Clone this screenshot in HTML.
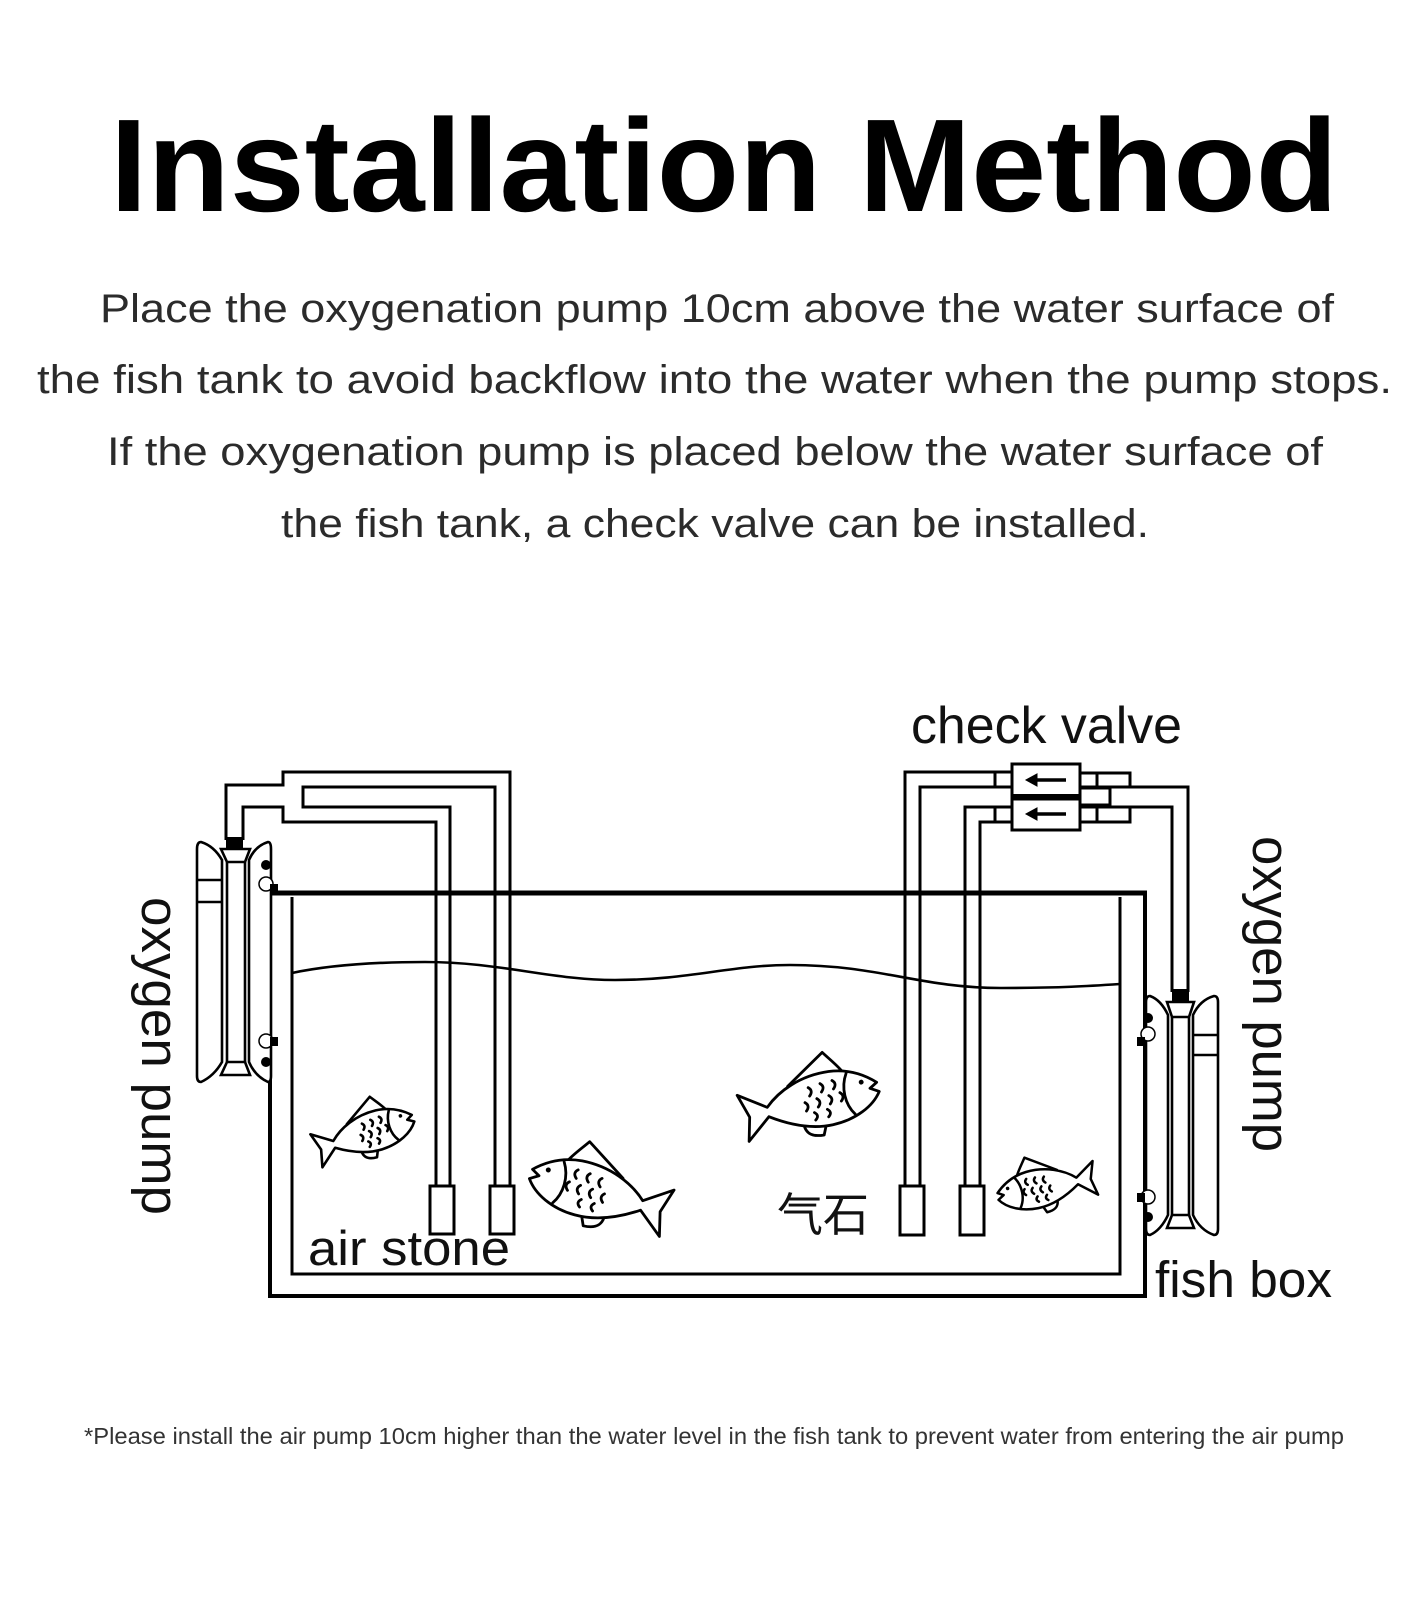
<!DOCTYPE html>
<html>
<head>
<meta charset="utf-8">
<style>
  html,body{margin:0;padding:0;background:#fff;}
  body{width:1427px;height:1600px;overflow:hidden;}
  svg{display:block;}
  .t{font-family:"Liberation Sans","Noto Sans CJK SC",sans-serif;}
</style>
</head>
<body>
<svg width="1427" height="1600" viewBox="0 0 1427 1600" xmlns="http://www.w3.org/2000/svg">
  <rect x="0" y="0" width="1427" height="1600" fill="#fff"/>

  <!-- Title -->
  <text class="t" x="110" y="211" font-size="132" font-weight="bold" fill="#000" textLength="1228" lengthAdjust="spacingAndGlyphs">Installation Method</text>

  <!-- Paragraph -->
  <g class="t" font-size="40" fill="#2b2b2b">
    <text x="100" y="322" textLength="1234" lengthAdjust="spacingAndGlyphs">Place the oxygenation pump 10cm above the water surface of</text>
    <text x="37" y="393" textLength="1355" lengthAdjust="spacingAndGlyphs">the fish tank to avoid backflow into the water when the pump stops.</text>
    <text x="107" y="465" textLength="1216" lengthAdjust="spacingAndGlyphs">If the oxygenation pump is placed below the water surface of</text>
    <text x="281" y="537" textLength="868" lengthAdjust="spacingAndGlyphs">the fish tank, a check valve can be installed.</text>
  </g>

  <!-- Labels -->
  <text class="t" x="911" y="743" font-size="52" fill="#111" textLength="271" lengthAdjust="spacingAndGlyphs">check valve</text>
  <text class="t" font-size="53" fill="#111" transform="translate(142,897) rotate(90)" textLength="318" lengthAdjust="spacingAndGlyphs">oxygen pump</text>
  <text class="t" font-size="53" fill="#111" transform="translate(1253,836) rotate(90)" textLength="316" lengthAdjust="spacingAndGlyphs">oxygen pump</text>
  <text class="t" x="1155" y="1297" font-size="51" fill="#111" textLength="177" lengthAdjust="spacingAndGlyphs">fish box</text>
  <text class="t" x="308" y="1265" font-size="49" fill="#111" textLength="202" lengthAdjust="spacingAndGlyphs">air stone</text>
  <text x="777" y="1231" font-size="46" fill="#111" style="font-family:'Noto Sans CJK SC','WenQuanYi Zen Hei',sans-serif;">气石</text>

  <!-- Footnote -->
  <text class="t" x="84" y="1444" font-size="23" fill="#333" textLength="1260" lengthAdjust="spacingAndGlyphs">*Please install the air pump 10cm higher than the water level in the fish tank to prevent water from entering the air pump</text>

  <!-- Tubes -->
  <g fill="none" stroke="#000" stroke-width="3" stroke-linejoin="miter">
    <path d="M226,840 V785 H283 V772 H510 V1186"/>
    <path d="M243,840 V807 H283 V822 H436 V1186"/>
    <path d="M450,1186 V807 H303 V787 H495 V1186"/>
    <path d="M905,1186 V772 H995"/>
    <path d="M920,1186 V787 H995"/>
    <path d="M965,1186 V807 H995"/>
    <path d="M980,1186 V822 H995"/>
    <path d="M1130,787 H1188 V992"/>
    <path d="M1130,807 H1172 V992"/>
  </g>

  <!-- Check valve -->
  <g fill="#fff" stroke="#000" stroke-width="3">
    <rect x="995" y="772" width="17" height="15"/>
    <rect x="995" y="807" width="17" height="15"/>
    <rect x="1080" y="773" width="50" height="14"/>
    <rect x="1080" y="807" width="50" height="15"/>
    <rect x="1080" y="788" width="30" height="17"/>
    <rect x="1012" y="764" width="68" height="33"/>
    <rect x="1012" y="799" width="68" height="31"/>
    <line x1="1097" y1="773" x2="1097" y2="787"/>
    <line x1="1097" y1="807" x2="1097" y2="822"/>
  </g>
  <rect x="1012" y="794" width="68" height="6" fill="#000"/>
  <g fill="#000" stroke="#000">
    <line x1="1034" y1="780" x2="1066" y2="780" stroke-width="3.5"/>
    <polygon points="1026,780 1037,774 1037,786" stroke-width="1"/>
    <line x1="1034" y1="814" x2="1066" y2="814" stroke-width="3.5"/>
    <polygon points="1026,814 1037,808 1037,820" stroke-width="1"/>
  </g>

  <!-- Air stones -->
  <g fill="#fff" stroke="#000" stroke-width="3">
    <rect x="430" y="1186" width="24" height="48"/>
    <rect x="490" y="1186" width="24" height="48"/>
    <rect x="900" y="1186" width="24" height="49"/>
    <rect x="960" y="1186" width="24" height="49"/>
  </g>

  <!-- Tank -->
  <path d="M292,897 V1274 H1120 V897" fill="none" stroke="#000" stroke-width="3"/>
  <path d="M270,893 V1296 H1145 V893" fill="none" stroke="#000" stroke-width="4"/>
  <line x1="268" y1="893" x2="1147" y2="893" stroke="#000" stroke-width="5"/>

  <!-- Water line -->
  <path d="M292,973 C330,965 380,962 425,962 C500,962 550,980 615,980 C690,980 730,965 790,965 C880,965 920,988 1001,988 C1060,988 1090,986 1120,984" fill="none" stroke="#000" stroke-width="2.6"/>

  <!-- Left pump -->
  <g fill="#fff" stroke="#000" stroke-width="2.6">
    <path d="M201,842 Q214,846 222,860 L222,1062 Q214,1076 201,1082 Q197,1082 197,1076 L197,849 Q197,842 201,842 Z"/>
    <path d="M268,842 Q255,846 249,860 L249,1062 Q255,1076 268,1082 Q271,1082 271,1076 L271,849 Q271,842 268,842 Z"/>
    <path d="M221,849 L250,849 L245,862 L227,862 Z"/>
    <path d="M221,1075 L250,1075 L245,1062 L227,1062 Z"/>
    <line x1="227" y1="862" x2="227" y2="1062"/>
    <line x1="245" y1="862" x2="245" y2="1062"/>
    <line x1="197" y1="880" x2="222" y2="880"/>
    <line x1="197" y1="902" x2="222" y2="902"/>
  </g>
  <rect x="226" y="837" width="17" height="12" fill="#000"/>
  <g>
    <circle cx="266" cy="884" r="7" fill="#fff" stroke="#000" stroke-width="1.5"/>
    <circle cx="266" cy="1041" r="7" fill="#fff" stroke="#000" stroke-width="1.5"/>
    <circle cx="266" cy="865" r="5" fill="#000"/>
    <circle cx="266" cy="1062" r="5" fill="#000"/>
    <rect x="270" y="884" width="8" height="9" fill="#000"/>
    <rect x="270" y="1037" width="8" height="9" fill="#000"/>
  </g>

  <!-- Right pump -->
  <g fill="#fff" stroke="#000" stroke-width="2.6">
    <path d="M1150,996 Q1161,1000 1168,1015 L1168,1215 Q1161,1230 1150,1235 Q1146,1235 1146,1229 L1146,1002 Q1146,996 1150,996 Z"/>
    <path d="M1214,996 Q1200,1000 1193,1015 L1193,1215 Q1200,1230 1214,1235 Q1218,1235 1218,1229 L1218,1002 Q1218,996 1214,996 Z"/>
    <path d="M1167,1002 L1194,1002 L1189,1017 L1172,1017 Z"/>
    <path d="M1167,1228 L1194,1228 L1189,1215 L1172,1215 Z"/>
    <line x1="1172" y1="1017" x2="1172" y2="1215"/>
    <line x1="1189" y1="1017" x2="1189" y2="1215"/>
    <line x1="1193" y1="1035" x2="1218" y2="1035"/>
    <line x1="1193" y1="1055" x2="1218" y2="1055"/>
  </g>
  <rect x="1172" y="989" width="17" height="13" fill="#000"/>
  <g>
    <circle cx="1148" cy="1034" r="7" fill="#fff" stroke="#000" stroke-width="1.5"/>
    <circle cx="1148" cy="1197" r="7" fill="#fff" stroke="#000" stroke-width="1.5"/>
    <circle cx="1148" cy="1018" r="5" fill="#000"/>
    <circle cx="1148" cy="1217" r="5" fill="#000"/>
    <rect x="1137" y="1037" width="8" height="9" fill="#000"/>
    <rect x="1137" y="1193" width="8" height="9" fill="#000"/>
  </g>

  <!-- Fish 1 (small, facing right) -->
  <g transform="translate(314,1150) rotate(-15.5) scale(0.7)" fill="none" stroke="#000" stroke-width="2.6" stroke-linecap="round" stroke-linejoin="round">
    <path vector-effect="non-scaling-stroke" fill="#fff" d="M55,-23 L97,-52 C103,-44 110,-36 114,-29"/>
    <path vector-effect="non-scaling-stroke" fill="#fff" d="M65,21 C66,30 72,34 84,34 L88,24"/>
    <path vector-effect="non-scaling-stroke" fill="#fff" d="M30,-5 C45,-20 70,-32 100,-31 C122,-30 138,-20 148,-11 L140,-6 L149,-1 C140,13 120,24 95,25 C70,26 48,16 30,5 L5,27 L10,2 L1,-23 Z"/>
    <path vector-effect="non-scaling-stroke" d="M118,-26 C110,-12 111,6 120,18"/>
    <path vector-effect="non-scaling-stroke" d="M76,-18 q5,4 0,9 M89,-20 q5,4 0,9 M102,-21 q5,4 0,9 M70,-3 q5,4 0,9 M83,-5 q5,4 0,9 M96,-6 q5,4 0,9 M108,-7 q5,4 0,9 M78,9 q5,4 0,8 M92,8 q5,4 0,8"/>
    <circle cx="132" cy="-14" r="2.6" fill="#000" stroke="none"/>
  </g>

  <!-- Fish 3 (big, facing right) -->
  <g transform="translate(740,1117) rotate(-10) scale(0.95)" fill="none" stroke="#000" stroke-width="2.8" stroke-linecap="round" stroke-linejoin="round">
    <path vector-effect="non-scaling-stroke" fill="#fff" d="M55,-23 L97,-52 C103,-44 110,-36 114,-29"/>
    <path vector-effect="non-scaling-stroke" fill="#fff" d="M65,21 C66,30 72,34 84,34 L88,24"/>
    <path vector-effect="non-scaling-stroke" fill="#fff" d="M30,-5 C45,-20 70,-32 100,-31 C122,-30 138,-20 148,-11 L140,-6 L149,-1 C140,13 120,24 95,25 C70,26 48,16 30,5 L5,27 L10,2 L1,-23 Z"/>
    <path vector-effect="non-scaling-stroke" d="M118,-26 C110,-12 111,6 120,18"/>
    <path vector-effect="non-scaling-stroke" d="M76,-18 q5,4 0,9 M89,-20 q5,4 0,9 M102,-21 q5,4 0,9 M70,-3 q5,4 0,9 M83,-5 q5,4 0,9 M96,-6 q5,4 0,9 M108,-7 q5,4 0,9 M78,9 q5,4 0,8 M92,8 q5,4 0,8"/>
    <circle cx="132" cy="-14" r="2.6" fill="#000" stroke="none"/>
  </g>

  <!-- Fish 2 (facing left) -->
  <g transform="translate(670,1212) rotate(13) scale(-0.97,0.97)" fill="none" stroke="#000" stroke-width="2.8" stroke-linecap="round" stroke-linejoin="round">
    <path vector-effect="non-scaling-stroke" fill="#fff" d="M55,-23 L97,-52 C103,-44 110,-36 114,-29"/>
    <path vector-effect="non-scaling-stroke" fill="#fff" d="M65,21 C66,30 72,34 84,34 L88,24"/>
    <path vector-effect="non-scaling-stroke" fill="#fff" d="M30,-5 C45,-20 70,-32 100,-31 C122,-30 138,-20 148,-11 L140,-6 L149,-1 C140,13 120,24 95,25 C70,26 48,16 30,5 L5,27 L10,2 L1,-23 Z"/>
    <path vector-effect="non-scaling-stroke" d="M118,-26 C110,-12 111,6 120,18"/>
    <path vector-effect="non-scaling-stroke" d="M76,-18 q5,4 0,9 M89,-20 q5,4 0,9 M102,-21 q5,4 0,9 M70,-3 q5,4 0,9 M83,-5 q5,4 0,9 M96,-6 q5,4 0,9 M108,-7 q5,4 0,9 M78,9 q5,4 0,8 M92,8 q5,4 0,8"/>
    <circle cx="132" cy="-14" r="2.6" fill="#000" stroke="none"/>
  </g>

  <!-- Fish 4 (small, facing left) -->
  <g transform="translate(1097,1176) rotate(-14) scale(-0.68,0.68)" fill="none" stroke="#000" stroke-width="2.5" stroke-linecap="round" stroke-linejoin="round">
    <path vector-effect="non-scaling-stroke" fill="#fff" d="M55,-23 L97,-52 C103,-44 110,-36 114,-29"/>
    <path vector-effect="non-scaling-stroke" fill="#fff" d="M65,21 C66,30 72,34 84,34 L88,24"/>
    <path vector-effect="non-scaling-stroke" fill="#fff" d="M30,-5 C45,-20 70,-32 100,-31 C122,-30 138,-20 148,-11 L140,-6 L149,-1 C140,13 120,24 95,25 C70,26 48,16 30,5 L5,27 L10,2 L1,-23 Z"/>
    <path vector-effect="non-scaling-stroke" d="M118,-26 C110,-12 111,6 120,18"/>
    <path vector-effect="non-scaling-stroke" d="M76,-18 q5,4 0,9 M89,-20 q5,4 0,9 M102,-21 q5,4 0,9 M70,-3 q5,4 0,9 M83,-5 q5,4 0,9 M96,-6 q5,4 0,9 M108,-7 q5,4 0,9 M78,9 q5,4 0,8 M92,8 q5,4 0,8"/>
    <circle cx="132" cy="-14" r="2.6" fill="#000" stroke="none"/>
  </g>
</svg>
</body>
</html>
